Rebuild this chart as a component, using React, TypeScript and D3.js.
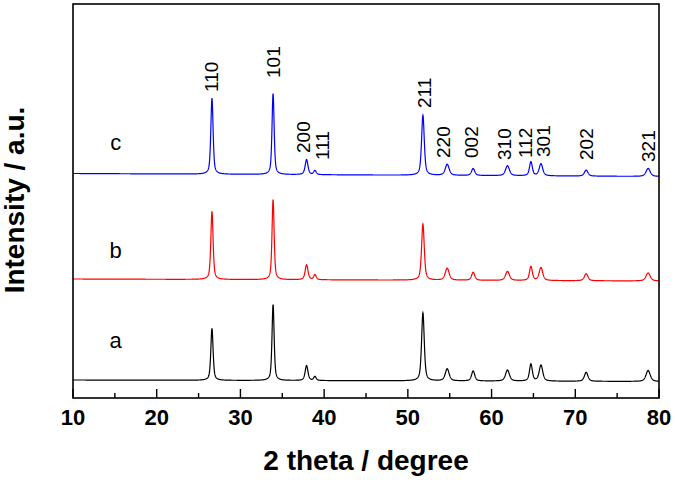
import React from "react";
import * as d3 from "d3";

// ---- data ----
const peakPositions = [26.6, 33.9, 37.9, 38.9, 51.8, 54.7, 57.8, 61.9, 64.7, 65.9, 71.3, 78.7];
const peakLabels = ["110", "101", "200", "111", "211", "220", "002", "310", "112", "301", "202", "321"];
const peakWidths = [0.32, 0.3, 0.4, 0.35, 0.38, 0.55, 0.45, 0.55, 0.4, 0.5, 0.5, 0.6];
const heightsA = [52, 76, 15, 4, 68, 12, 10, 11, 17, 16, 9, 11];
const heightsB = [68, 80, 15, 5, 56, 12, 8, 9, 14, 13, 7, 8];
const heightsC = [76, 81, 15, 4, 60, 11, 7, 10, 14, 12, 6, 8];
const baselineA = [18, 16.5];
const baselineB = [119, 117];
const baselineC = [224.5, 221.5];
const sampleNames = ["a", "b", "c"];
const sampleColors = ["#000000", "#ff0000", "#0000ff"];
// label anchor (2θ, intensity of label start) for the top pattern
const labelX = [26.6, 33.9, 37.5, 39.75, 51.93, 54.2, 57.66, 61.49, 64.1, 66.15, 71.28, 78.69];
const labelY = [306, 320, 245, 238, 290, 240, 240, 238, 240, 241, 238, 236];
const sampleLabelX = [15.1, 15.1, 15.1];
const sampleLabelY = [50, 140, 248];
const xMajorTicks = [10, 20, 30, 40, 50, 60, 70, 80];
const xMinorTicks = [15, 25, 35, 45, 55, 65, 75];

const W = 675, H = 480;
const M = { left: 73, right: 659, top: 4, bottom: 398 };

function profile(x: number, heights: number[], base: number[]) {
  const t = (x - 10) / 70;
  let y = base[0] + (base[1] - base[0]) * t;
  for (let i = 0; i < peakPositions.length; i++) {
    const hw = peakWidths[i] / 2;
    const d = (x - peakPositions[i]) / hw;
    const lor = 1 / (1 + d * d);
    const gau = Math.exp(-Math.LN2 * d * d);
    y += heights[i] * (0.55 * lor + 0.45 * gau);
  }
  return y;
}

export default function App() {
  const x = d3.scaleLinear().domain([10, 80]).range([M.left, M.right]);
  const y = d3.scaleLinear().domain([0, 394]).range([M.bottom, M.top]);
  const grid = d3.range(10, 80.0001, 0.02);
  const sets = [
    { h: heightsA, b: baselineA },
    { h: heightsB, b: baselineB },
    { h: heightsC, b: baselineC },
  ];
  const line = d3
    .line<[number, number]>()
    .x((d) => x(d[0]))
    .y((d) => y(d[1]));

  const fontBold = "'Liberation Sans', Arial, sans-serif";
  return (
    <svg width={W} height={H} style={{ position: "absolute", left: 0, top: 0, background: "#fff" }}>
      <rect x={0} y={0} width={W} height={H} fill="#fff" />
      {sets.map((s, i) => (
        <path
          key={i}
          d={line(grid.map((g) => [g, profile(g, s.h, s.b)] as [number, number])) || ""}
          fill="none"
          stroke={sampleColors[i]}
          strokeWidth={1.2}
        />
      ))}
      {sampleNames.map((n, i) => (
        <text key={n} x={x(sampleLabelX[i])} y={y(sampleLabelY[i])} fontFamily={fontBold} fontSize={22} textAnchor="middle">
          {n}
        </text>
      ))}
      {peakLabels.map((l, i) => (
        <text
          key={l}
          transform={`translate(${x(labelX[i])},${y(labelY[i])}) rotate(-90)`}
          fontFamily={fontBold}
          fontSize={19}
          dominantBaseline="central"
        >
          {l}
        </text>
      ))}
      <rect
        x={M.left}
        y={M.top}
        width={M.right - M.left}
        height={M.bottom - M.top}
        fill="none"
        stroke="#000"
        strokeWidth={1.6}
      />
      {xMajorTicks.map((t) => (
        <line key={"M" + t} x1={x(t)} x2={x(t)} y1={M.bottom} y2={M.bottom - 9} stroke="#000" strokeWidth={1.4} />
      ))}
      {xMinorTicks.map((t) => (
        <line key={"m" + t} x1={x(t)} x2={x(t)} y1={M.bottom} y2={M.bottom - 5} stroke="#000" strokeWidth={1.4} />
      ))}
      {xMajorTicks.map((t) => (
        <text key={"L" + t} x={x(t)} y={425} fontFamily={fontBold} fontWeight="bold" fontSize={22} textAnchor="middle">
          {t}
        </text>
      ))}
      <text x={(M.left + M.right) / 2} y={470} fontFamily={fontBold} fontWeight="bold" fontSize={28} textAnchor="middle">
        2 theta / degree
      </text>
      <text
        transform={`translate(24,200) rotate(-90)`}
        fontFamily={fontBold}
        fontWeight="bold"
        fontSize={28}
        textAnchor="middle"
      >
        Intensity / a.u.
      </text>
    </svg>
  );
}
